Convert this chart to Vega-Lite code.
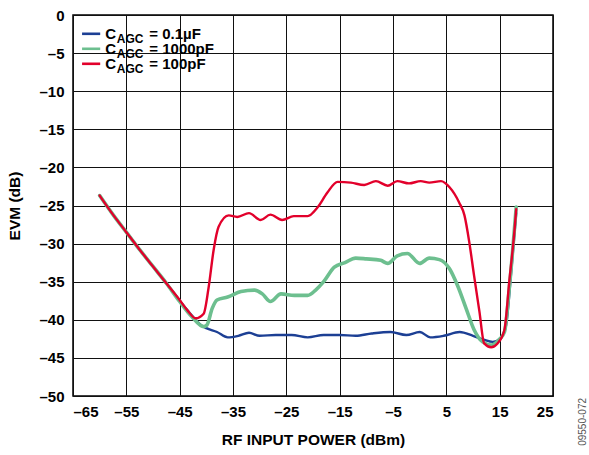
{
  "$schema": "https://vega.github.io/schema/vega-lite/v6.json",
  "width": 480,
  "height": 381,
  "autosize": "none",
  "padding": {"left": 73, "top": 15, "right": 36, "bottom": 59},
  "background": "white",
  "config": {
    "font": "Liberation Sans",
    "view": {"stroke": "black", "strokeWidth": 1.5},
    "axis": {
      "domain": false,
      "ticks": false,
      "grid": true,
      "gridColor": "#111111",
      "gridWidth": 1,
      "gridOpacity": 1,
      "labelOverlap": false,
      "labelFont": "Liberation Sans",
      "labelFontWeight": "bold",
      "labelFontSize": 15,
      "labelColor": "black",
      "titleFont": "Liberation Sans",
      "titleFontWeight": "bold",
      "titleFontSize": 15.5,
      "titleColor": "black"
    }
  },
  "datasets": {
    "curves": [
      {"s": "0.1µF", "x": -60, "y": -23.7}, {"s": "0.1µF", "x": -57.5, "y": -26.2}, {"s": "0.1µF", "x": -55, "y": -28.5}, {"s": "0.1µF", "x": -52.5, "y": -30.8}, {"s": "0.1µF", "x": -50, "y": -33.0}, {"s": "0.1µF", "x": -47.5, "y": -35.2}, {"s": "0.1µF", "x": -45, "y": -37.5},
      {"s": "0.1µF", "x": -42.5, "y": -39.6}, {"s": "0.1µF", "x": -41, "y": -40.7}, {"s": "0.1µF", "x": -40, "y": -41.1}, {"s": "0.1µF", "x": -38, "y": -41.6}, {"s": "0.1µF", "x": -36, "y": -42.3}, {"s": "0.1µF", "x": -34, "y": -42.1}, {"s": "0.1µF", "x": -32, "y": -41.7}, {"s": "0.1µF", "x": -30, "y": -42.1}, {"s": "0.1µF", "x": -27, "y": -42.0}, {"s": "0.1µF", "x": -24, "y": -42.0}, {"s": "0.1µF", "x": -21, "y": -42.3}, {"s": "0.1µF", "x": -18, "y": -42.0}, {"s": "0.1µF", "x": -15, "y": -42.0}, {"s": "0.1µF", "x": -12, "y": -42.1}, {"s": "0.1µF", "x": -9, "y": -41.8}, {"s": "0.1µF", "x": -5.5, "y": -41.6}, {"s": "0.1µF", "x": -2.5, "y": -42.0}, {"s": "0.1µF", "x": 0, "y": -41.6}, {"s": "0.1µF", "x": 2, "y": -42.3}, {"s": "0.1µF", "x": 4.5, "y": -42.1}, {"s": "0.1µF", "x": 7.5, "y": -41.6}, {"s": "0.1µF", "x": 10, "y": -42.1}, {"s": "0.1µF", "x": 12, "y": -42.6}, {"s": "0.1µF", "x": 13.7, "y": -42.9}, {"s": "0.1µF", "x": 15.2, "y": -42.4}, {"s": "0.1µF", "x": 16.2, "y": -40.7}, {"s": "0.1µF", "x": 17.1, "y": -34.2}, {"s": "0.1µF", "x": 17.8, "y": -28.5}, {"s": "0.1µF", "x": 18.1, "y": -26.0},
      {"s": "1000pF", "x": -60, "y": -23.7}, {"s": "1000pF", "x": -57.5, "y": -26.2}, {"s": "1000pF", "x": -55, "y": -28.5}, {"s": "1000pF", "x": -52.5, "y": -30.8}, {"s": "1000pF", "x": -50, "y": -33.0}, {"s": "1000pF", "x": -47.5, "y": -35.2}, {"s": "1000pF", "x": -45, "y": -37.6},
      {"s": "1000pF", "x": -42.7, "y": -39.6}, {"s": "1000pF", "x": -40.5, "y": -40.9}, {"s": "1000pF", "x": -39.9, "y": -40.7}, {"s": "1000pF", "x": -38.9, "y": -38.5}, {"s": "1000pF", "x": -38, "y": -37.4}, {"s": "1000pF", "x": -36, "y": -37.0}, {"s": "1000pF", "x": -33.5, "y": -36.3}, {"s": "1000pF", "x": -31, "y": -36.1}, {"s": "1000pF", "x": -29.5, "y": -36.6}, {"s": "1000pF", "x": -28, "y": -37.6}, {"s": "1000pF", "x": -26, "y": -36.6}, {"s": "1000pF", "x": -23.5, "y": -36.8}, {"s": "1000pF", "x": -21, "y": -36.8}, {"s": "1000pF", "x": -19.5, "y": -36.1}, {"s": "1000pF", "x": -18, "y": -35.0}, {"s": "1000pF", "x": -16, "y": -33.1}, {"s": "1000pF", "x": -14, "y": -32.5}, {"s": "1000pF", "x": -12, "y": -31.9}, {"s": "1000pF", "x": -10, "y": -32.0}, {"s": "1000pF", "x": -7.3, "y": -32.2}, {"s": "1000pF", "x": -6, "y": -32.6}, {"s": "1000pF", "x": -4.2, "y": -31.6}, {"s": "1000pF", "x": -2.3, "y": -31.3}, {"s": "1000pF", "x": 0, "y": -32.6}, {"s": "1000pF", "x": 1.8, "y": -31.9}, {"s": "1000pF", "x": 3.7, "y": -32.1}, {"s": "1000pF", "x": 5.6, "y": -33.3}, {"s": "1000pF", "x": 7.1, "y": -35.5}, {"s": "1000pF", "x": 8.7, "y": -38.5}, {"s": "1000pF", "x": 10.2, "y": -41.3}, {"s": "1000pF", "x": 11.8, "y": -42.9}, {"s": "1000pF", "x": 13.4, "y": -43.3}, {"s": "1000pF", "x": 14.9, "y": -42.6}, {"s": "1000pF", "x": 15.9, "y": -41.6}, {"s": "1000pF", "x": 16.8, "y": -35.9}, {"s": "1000pF", "x": 18.1, "y": -25.2},
      {"s": "100pF", "x": -60, "y": -23.7}, {"s": "100pF", "x": -57.5, "y": -26.2}, {"s": "100pF", "x": -55, "y": -28.5}, {"s": "100pF", "x": -52.5, "y": -30.8}, {"s": "100pF", "x": -50, "y": -33.0}, {"s": "100pF", "x": -47.5, "y": -35.2}, {"s": "100pF", "x": -45, "y": -37.4},
      {"s": "100pF", "x": -43.5, "y": -38.8}, {"s": "100pF", "x": -42, "y": -39.8}, {"s": "100pF", "x": -40.5, "y": -39.2}, {"s": "100pF", "x": -39.6, "y": -35.9}, {"s": "100pF", "x": -38.6, "y": -30.7}, {"s": "100pF", "x": -37.7, "y": -27.8}, {"s": "100pF", "x": -35.8, "y": -26.3}, {"s": "100pF", "x": -34.2, "y": -26.5}, {"s": "100pF", "x": -32, "y": -26.0}, {"s": "100pF", "x": -29.8, "y": -26.9}, {"s": "100pF", "x": -28, "y": -26.2}, {"s": "100pF", "x": -25.8, "y": -26.9}, {"s": "100pF", "x": -23.6, "y": -26.4}, {"s": "100pF", "x": -21, "y": -26.4}, {"s": "100pF", "x": -19.2, "y": -25.3}, {"s": "100pF", "x": -17.3, "y": -23.3}, {"s": "100pF", "x": -15.4, "y": -21.9}, {"s": "100pF", "x": -12.9, "y": -22.0}, {"s": "100pF", "x": -10.4, "y": -22.3}, {"s": "100pF", "x": -8.2, "y": -21.8}, {"s": "100pF", "x": -6, "y": -22.4}, {"s": "100pF", "x": -4.2, "y": -21.8}, {"s": "100pF", "x": -2, "y": -22.1}, {"s": "100pF", "x": 0.2, "y": -21.8}, {"s": "100pF", "x": 1.8, "y": -22.0}, {"s": "100pF", "x": 4, "y": -21.8}, {"s": "100pF", "x": 5.6, "y": -22.6}, {"s": "100pF", "x": 7.4, "y": -24.6}, {"s": "100pF", "x": 8.4, "y": -26.3}, {"s": "100pF", "x": 9.3, "y": -29.8}, {"s": "100pF", "x": 10.2, "y": -34.2}, {"s": "100pF", "x": 11.2, "y": -38.9}, {"s": "100pF", "x": 12.1, "y": -43.1}, {"s": "100pF", "x": 13.4, "y": -43.6}, {"s": "100pF", "x": 14.6, "y": -43.1}, {"s": "100pF", "x": 15.9, "y": -41.3}, {"s": "100pF", "x": 16.8, "y": -35.0}, {"s": "100pF", "x": 17.8, "y": -28.1}, {"s": "100pF", "x": 18.1, "y": -25.5}
    ],
    "legend": [
      {"s": "0.1µF", "v": "= 0.1µF"},
      {"s": "1000pF", "v": "= 1000pF"},
      {"s": "100pF", "v": "= 100pF"}
    ]
  },
  "layer": [
    {
      "data": {"name": "curves"},
      "encoding": {
        "x": {
          "field": "x", "type": "quantitative",
          "scale": {"domain": [-65, 25], "nice": false, "zero": false},
          "axis": {
            "values": [-65, -55, -45, -35, -25, -15, -5, 5, 15, 25],
            "labelExpr": "datum.value < 0 ? '–' + abs(datum.value) : '' + datum.value",
            "labelPadding": 8,
            "title": "RF INPUT POWER (dBm)",
            "titlePadding": 13
          }
        },
        "y": {
          "field": "y", "type": "quantitative",
          "scale": {"domain": [-50, 0], "nice": false, "zero": false},
          "axis": {
            "values": [-50, -45, -40, -35, -30, -25, -20, -15, -10, -5, 0],
            "labelExpr": "datum.value < 0 ? '–' + abs(datum.value) : '' + datum.value",
            "labelPadding": 9,
            "title": "EVM (dB)",
            "titlePadding": 16
          }
        },
        "color": {
          "field": "s", "type": "nominal",
          "scale": {"domain": ["0.1µF", "1000pF", "100pF"], "range": ["#1c3f94", "#6dbf8f", "#e2002b"]},
          "legend": null
        }
      },
      "layer": [
        {
          "transform": [{"filter": "datum.s == '0.1µF'"}],
          "mark": {"type": "line", "interpolate": "monotone", "strokeWidth": 2.4, "strokeCap": "round", "strokeJoin": "round"}
        },
        {
          "transform": [{"filter": "datum.s == '1000pF'"}],
          "mark": {"type": "line", "interpolate": "monotone", "strokeWidth": 3.6, "strokeCap": "round", "strokeJoin": "round"}
        },
        {
          "transform": [{"filter": "datum.s == '100pF'"}],
          "mark": {"type": "line", "interpolate": "monotone", "strokeWidth": 2.4, "strokeCap": "round", "strokeJoin": "round"}
        }
      ]
    },
    {
      "data": {"values": [{"code": "09550-072"}]},
      "mark": {"type": "text", "angle": 270, "fontSize": 10, "color": "#555555", "font": "Liberation Sans", "align": "center", "baseline": "middle"},
      "encoding": {
        "x": {"datum": 30.6},
        "y": {"datum": -53.4, "scale": {"domain": [-50, 0], "nice": false, "zero": false}, "axis": null},
        "text": {"field": "code"}
      }
    },
    {
      "data": {"name": "legend"},
      "encoding": {
        "y": {
          "field": "s", "type": "ordinal",
          "scale": {"type": "point", "domain": ["0.1µF", "1000pF", "100pF"], "range": [18.8, 48.8], "padding": 0},
          "axis": null
        }
      },
      "layer": [
        {
          "mark": {"type": "rule", "strokeCap": "butt", "strokeWidth": 2.6},
          "encoding": {
            "x": {"datum": -63.3},
            "x2": {"datum": -59.9},
            "color": {"field": "s", "type": "nominal", "legend": null}
          }
        },
        {
          "mark": {"type": "text", "align": "left", "baseline": "middle", "fontSize": 15, "fontWeight": "bold", "font": "Liberation Sans", "color": "black", "dy": 0.5},
          "encoding": {"x": {"datum": -58.94}, "text": {"value": "C"}}
        },
        {
          "mark": {"type": "text", "align": "left", "baseline": "middle", "fontSize": 12, "fontWeight": "bold", "font": "Liberation Sans", "color": "black", "dy": 5.5},
          "encoding": {"x": {"datum": -56.79}, "text": {"value": "AGC"}}
        },
        {
          "mark": {"type": "text", "align": "left", "baseline": "middle", "fontSize": 15, "fontWeight": "bold", "font": "Liberation Sans", "color": "black", "dy": 0.5},
          "encoding": {"x": {"datum": -50.69}, "text": {"field": "v"}}
        }
      ]
    }
  ],
  "resolve": {"scale": {"y": "independent"}}
}
